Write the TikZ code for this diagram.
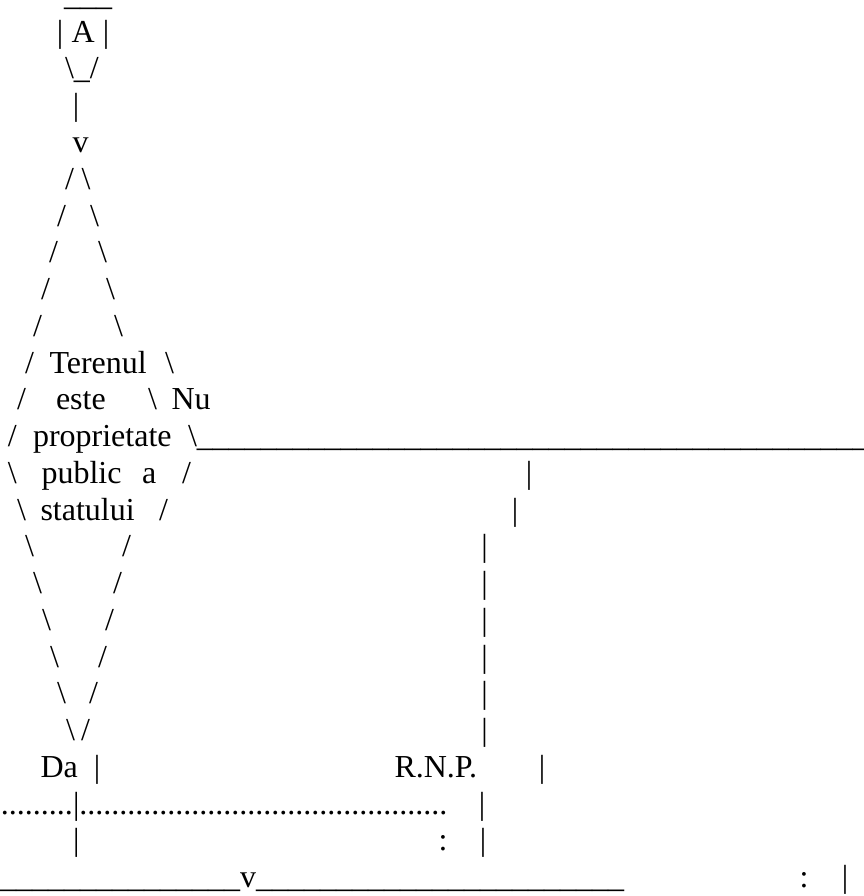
\documentclass[tikz,border=0pt]{standalone}
\usepackage{fontspec}
\setmainfont{Liberation Serif}
\usepackage{tikz}
\usetikzlibrary{positioning}

\newcommand\asciisize{\fontsize{32}{36.75}\selectfont}
\newcommand\usrun[1]{\foreach \n in {1,...,#1}{\_}}
\newcommand\dotrun[1]{\foreach \n in {1,...,#1}{.}}
\newcommand\bsl{\textbackslash}

\begin{document}
\begin{tikzpicture}[x=1pt, y=-1pt,
  chr/.style={inner sep=0pt, outer sep=0pt, anchor=base west, font=\asciisize},
  lbl/.style={chr}]
  \useasboundingbox (0,0) rectangle (863,896);
  % baseline of row k: 5.5+36.75*k
  % start box A
  \node[chr] (atop) at (64,5.5) {\usrun{3}};
  \node[chr] (abarl) at (56.8,42.25) {|};
  \node[lbl] (a) at (71.5,42.25) {A};
  \node[chr] (abarr) at (102.8,42.25) {|};
  \node[chr] (abot) at (65,79) {\bsl\_/};
  \node[chr] (astem) at (72.8,115.75) {|};
  \node[chr] (ahead) at (72.5,152.5) {v};

  % decision rhombus, upper half
  \foreach \k/\xl/\xr in {5/65/81.5, 6/57/90, 7/49/98, 8/41/106, 9/33/114, 10/25/165, 11/17/148, 12/8/188}
    {\node[chr] (up\k) at (\xl,{5.5+36.75*\k}) {/};
     \node[chr] (ur\k) at (\xr,{5.5+36.75*\k}) {\bsl};}
  \node[lbl] (q1) at (49.5,373) {Terenul};
  \node[lbl] (q2) at (56,409.75) {este};
  \node[lbl] (q3) at (33,446.5) {proprietate};
  \node[lbl] (q4) at (41.5,483.25) {public};
  \node[lbl] (q5) at (142,483.25) {a};
  \node[lbl] (q6) at (40.5,520) {statului};
  \node[lbl] (nu) at (171.5,409.75) {Nu};
  \node[chr, anchor=base west] (nuline) at (ur12.base east) {\usrun{42}};

  % decision rhombus, lower half
  \foreach \k/\xl/\xr in {13/8/182, 14/17/159, 15/25/122, 16/33/113, 17/42/105, 18/50/98, 19/57/89, 20/66/81}
    {\node[chr] (dl\k) at (\xl,{5.5+36.75*\k}) {\bsl};
     \node[chr] (dr\k) at (\xr,{5.5+36.75*\k}) {/};}

  % branch Nu going down
  \node[chr] (nb13) at (525.8,483.25) {|};
  \node[chr] (nb14) at (511.8,520) {|};
  \foreach \k in {15,...,20}
    \node[chr] (nb\k) at (481.3,{5.5+36.75*\k}) {|};

  % branch Da and R.N.P.
  \node[lbl] (da) at (40.5,777.25) {Da};
  \node[chr] (dabar) at (93.8,777.25) {|};
  \node[lbl] (rnp) at (394.5,777.25) {R.N.P.};
  \node[chr] (rnpbar) at (538.8,777.25) {|};
  \node[chr] (dots1) at (1,814) {\dotrun{9}};
  \node[chr, anchor=base west] (dabar2) at (dots1.base east) {|};
  \node[chr, anchor=base west] (dots2) at (dabar2.base east) {\dotrun{46}};
  \node[chr] (nbar22) at (478.8,814) {|};
  \node[chr] (dabar3) at (73,850.75) {|};
  \node[chr] (colon1) at (438.7,850.75) {:};
  \node[chr] (nbar23) at (479.8,850.75) {|};
  \node[chr] (join) at (240,887.5) {v};
  \node[chr, anchor=base east] (joinl) at (join.base west) {\usrun{15}};
  \node[chr, anchor=base west] (joinr) at (join.base east) {\usrun{23}};
  \node[chr] (colon2) at (799.6,887.5) {:};
  \node[chr] (nbar24) at (841.8,887.5) {|};
\end{tikzpicture}
\end{document}
